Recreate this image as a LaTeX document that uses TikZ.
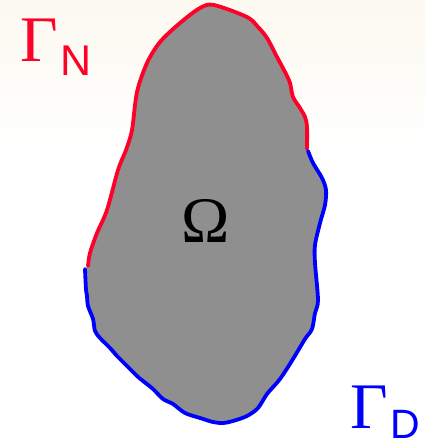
\documentclass[tikz,border=0pt]{standalone}
\usepackage{fontspec}
\newfontfamily\grk{Liberation Serif}
\newfontfamily\sansf{Liberation Sans}
\definecolor{bdred}{RGB}{255,0,40}
\definecolor{bdblue}{RGB}{0,0,255}
\definecolor{regiongray}{RGB}{143,143,143}
\definecolor{cream}{RGB}{252,249,240}
\tikzset{
  bnd/.style={line width=3.8pt, line join=round, line cap=round},
  lbl/.style={inner sep=0pt, anchor=base west},
}
\begin{document}
\begin{tikzpicture}[x=1pt,y=-1pt]
\useasboundingbox (0,0) rectangle (425,446);
\fill[white] (0,0) rectangle (425,446);
\shade[top color=cream, bottom color=white] (0,0) rectangle (425,160);
% region
\fill[regiongray] plot[smooth cycle, tension=0.5] coordinates {
(88,266)(90,253)(97,233)(107,210)(118,170)(126,150)(132,130)(137,92)(147,63)(160,42)(180,23)(200,8)(214,5)(247,17)(258,27)(267,38)(277,57)(285,72)(290,83)(293,97)(300,108)(305,117)(307,127)(307,150)
(313,163)(322,178)(326,190)(325,205)(320,223)(315,245)(315,263)(318,300)(315,313)(312,329)(305,339)(293,359)(280,379)(267,394)(258,408)(247,416)(233,421)(223,423)(213,422)(200,418)(185,413)(173,404)(163,399)(153,389)(143,381)(137,376)(125,364)(117,356)(110,348)(100,338)(95,331)(93,319)(88,306)(87,296)(86,290)(85,270)};
% Neumann boundary
\draw[bnd, bdred] plot[smooth, tension=0.5] coordinates {
(88,266)(90,253)(97,233)(107,210)(118,170)(126,150)(132,130)(137,92)(147,63)(160,42)(180,23)(200,8)(214,5)(247,17)(258,27)(267,38)(277,57)(285,72)(290,83)(293,97)(300,108)(305,117)(307,127)(307,149)};
% Dirichlet boundary
\draw[bnd, bdblue] plot[smooth, tension=0.5] coordinates {
(308,151)(313,163)(322,178)(326,190)(325,205)(320,223)(315,245)(315,263)(318,300)(315,313)(312,329)(305,339)(293,359)(280,379)(267,394)(258,408)(247,416)(233,421)(223,423)(213,422)(200,418)(185,413)(173,404)(163,399)(153,389)(143,381)(137,376)(125,364)(117,356)(110,348)(100,338)(95,331)(93,319)(88,306)(87,296)(86,290)(85,269)};
% labels
\node[lbl, text=bdred] (gN) at (20,62) {\grk\fontsize{65}{70}\selectfont Γ};
\node[lbl, text=bdred] (sN) at (60,76) {\sansf\fontsize{43}{46}\selectfont N};
\node[lbl, text=bdblue] (gD) at (350,428) {\grk\fontsize{65}{70}\selectfont Γ};
\node[lbl, text=bdblue] (sD) at (390,438) {\sansf\fontsize{41}{44}\selectfont D};
\node[inner sep=0pt, anchor=base] (om) at (206,242) {\grk\fontsize{65}{70}\selectfont Ω};
\end{tikzpicture}
\end{document}
